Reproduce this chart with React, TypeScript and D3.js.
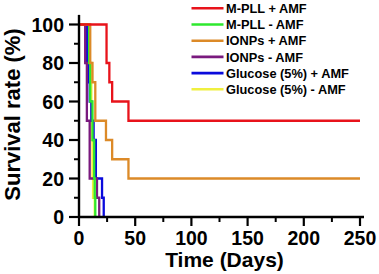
import React from "react";
import * as d3 from "d3";

const seriesNames = [
  "M-PLL + AMF",
  "M-PLL - AMF",
  "IONPs + AMF",
  "IONPs - AMF",
  "Glucose (5%) + AMF",
  "Glucose (5%) - AMF",
];
const seriesColors = ["#e8131b", "#2ee82e", "#dc8a28", "#7a1a7e", "#0a0adc", "#f0f040"];

const mpllPlus: [number, number][] = [[0, 100], [24.5, 80], [27, 70], [29.5, 60], [44, 50], [250, 50]];
const mpllMinus: [number, number][] = [[0, 100], [9, 80], [10, 60], [12, 40], [13.5, 20], [14, 10], [14.5, 0]];
const ionpsPlus: [number, number][] = [[0, 100], [10, 80], [12, 70], [14.5, 50], [24, 40], [29.5, 30], [44, 20], [250, 20]];
const ionpsMinus: [number, number][] = [[0, 100], [5.5, 80], [7, 50], [9.5, 20], [16, 10], [18, 0]];
const glucosePlus: [number, number][] = [[0, 100], [7, 80], [8.5, 70], [9.5, 60], [11, 50], [13, 40], [15, 20], [20.5, 10], [22, 0]];
const glucoseMinus: [number, number][] = [[0, 100], [9, 80], [11, 40], [12, 20], [12.5, 10], [14, 0]];

const seriesData = [mpllPlus, mpllMinus, ionpsPlus, ionpsMinus, glucosePlus, glucoseMinus];
const drawOrder = [5, 4, 3, 1, 2, 0];

const xMajor = [0, 50, 100, 150, 200, 250];
const xMinor = [25, 75, 125, 175, 225];
const yMajor = [0, 20, 40, 60, 80, 100];
const yMinor = [10, 30, 50, 70, 90];

export default function App() {
  const W = 379, H = 274;
  const x = d3.scaleLinear().domain([0, 250]).range([79, 360]);
  const y = d3.scaleLinear().domain([0, 100]).range([217, 24.5]);
  const line = d3
    .line<[number, number]>()
    .x((d) => x(d[0]))
    .y((d) => y(d[1]))
    .curve(d3.curveStepAfter);
  const font = "'Liberation Sans', Arial, sans-serif";
  return (
    <svg
      width={W}
      height={H}
      style={{ position: "absolute", left: 0, top: 0, background: "#fff" }}
      fontFamily={font}
      fontWeight="bold"
    >
      {drawOrder.map((i) => (
        <path key={i} d={line(seriesData[i]) || ""} fill="none" stroke={seriesColors[i]} strokeWidth={2.3} />
      ))}
      {/* axes */}
      <line x1={79} x2={79} y1={y(105)} y2={218} stroke="#000" strokeWidth={2.4} />
      <line x1={78} x2={364} y1={217} y2={217} stroke="#000" strokeWidth={2.4} />
      {yMajor.map((v) => (
        <g key={"ym" + v}>
          <line x1={69} x2={79} y1={y(v)} y2={y(v)} stroke="#000" strokeWidth={2.2} />
          <text x={64} y={y(v)} dy="0.36em" textAnchor="end" fontSize={19.5}>
            {v}
          </text>
        </g>
      ))}
      {yMinor.map((v) => (
        <line key={"yn" + v} x1={74} x2={79} y1={y(v)} y2={y(v)} stroke="#000" strokeWidth={2} />
      ))}
      {xMajor.map((v) => (
        <g key={"xm" + v}>
          <line x1={x(v)} x2={x(v)} y1={217} y2={226} stroke="#000" strokeWidth={2.2} />
          <text x={x(v)} y={245} textAnchor="middle" fontSize={19.5}>
            {v}
          </text>
        </g>
      ))}
      {xMinor.map((v) => (
        <line key={"xn" + v} x1={x(v)} x2={x(v)} y1={217} y2={222} stroke="#000" strokeWidth={2} />
      ))}
      <text x={224.5} y={267} textAnchor="middle" fontSize={21}>
        Time (Days)
      </text>
      <text transform="translate(20,114.5) rotate(-90)" textAnchor="middle" fontSize={22}>
        Survival rate (%)
      </text>
      {/* legend */}
      {seriesNames.map((n, i) => {
        const cy = 8.3 + i * 16.2;
        return (
          <g key={n}>
            <line x1={191.5} x2={223.5} y1={cy} y2={cy} stroke={seriesColors[i]} strokeWidth={2.6} />
            <text x={226} y={cy} dy="0.36em" fontSize={12.8}>
              {n}
            </text>
          </g>
        );
      })}
    </svg>
  );
}
